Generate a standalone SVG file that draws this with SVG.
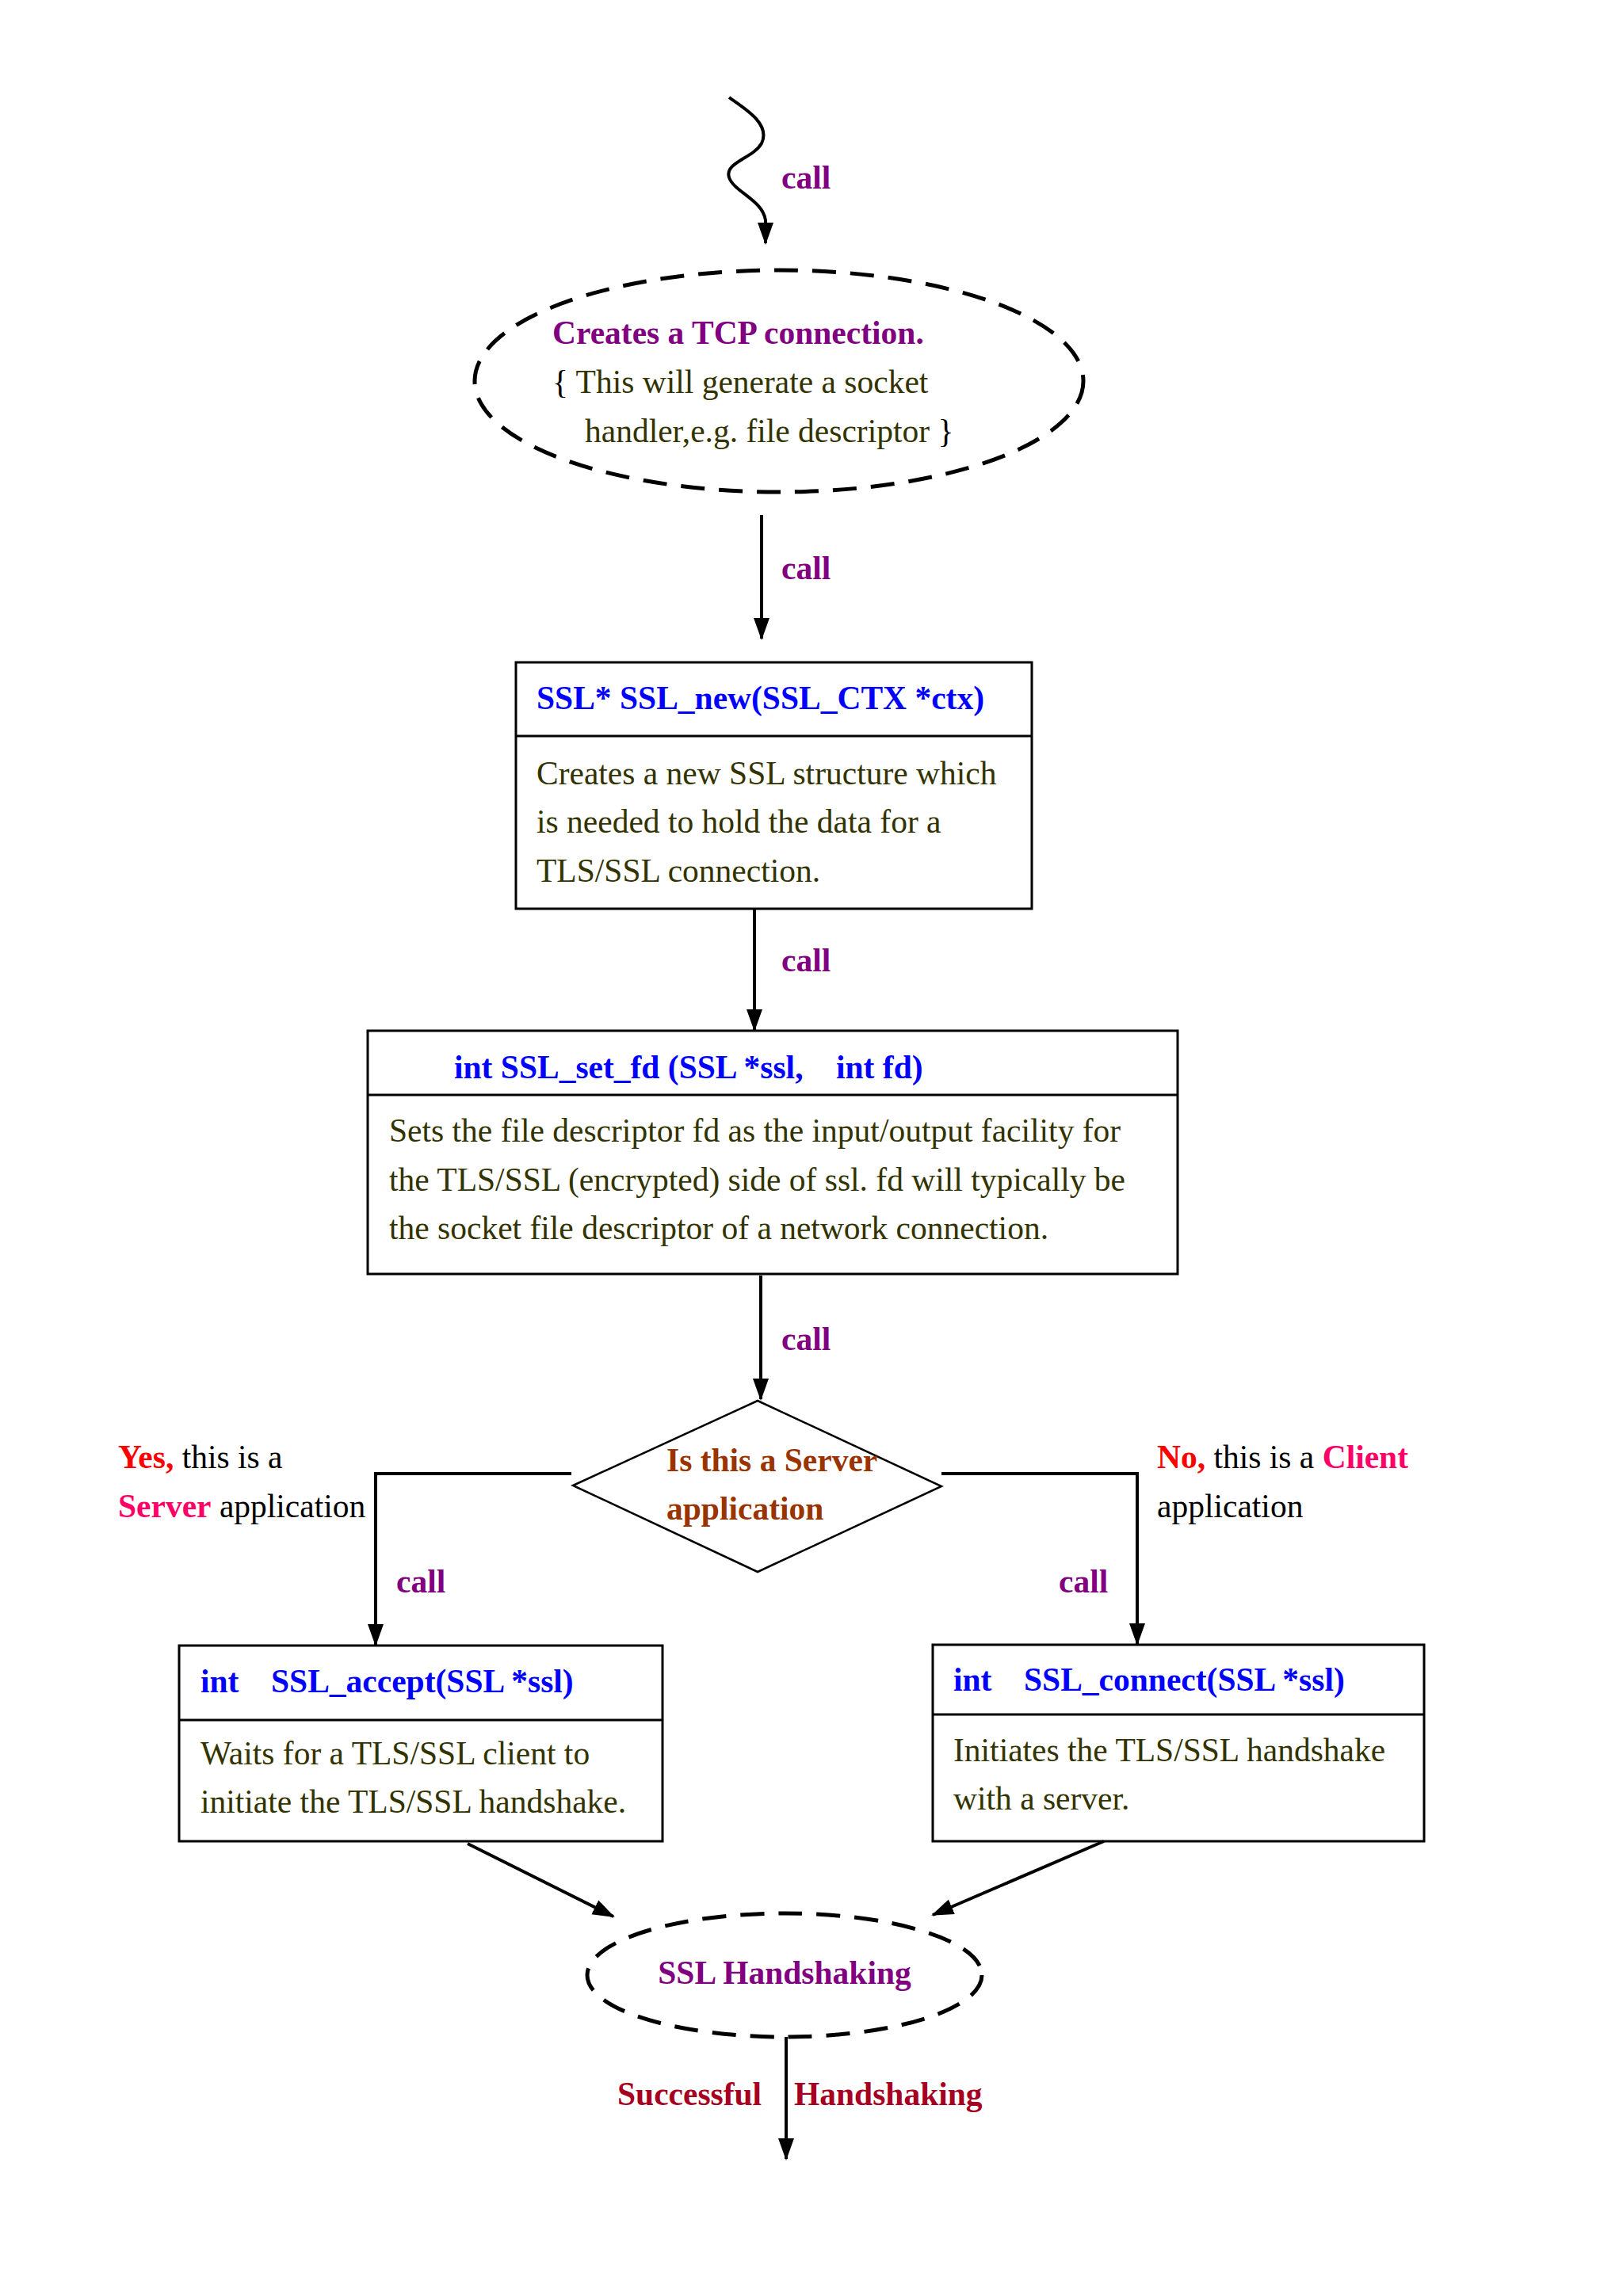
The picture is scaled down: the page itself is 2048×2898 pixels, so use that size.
<svg xmlns="http://www.w3.org/2000/svg" width="2048" height="2898" viewBox="0 0 2048 2898">
<style>
text{font-family:"Liberation Serif","Times New Roman",serif;font-size:41.5px}
.b{font-weight:bold}
.call{font-weight:bold;fill:#800080}
.body{fill:#333300}
.title{font-weight:bold;fill:#0000ff}
.box{fill:none;stroke:#000;stroke-width:3}
.dash{fill:none;stroke:#000;stroke-width:5;stroke-dasharray:30 18}
.con{fill:none;stroke:#000;stroke-width:4}
</style>
<defs>
<marker id="ah" markerUnits="userSpaceOnUse" markerWidth="28" markerHeight="24" viewBox="0 0 28 24" refX="26" refY="12" orient="auto">
<path d="M0,2 L28,12 L0,22 Z" fill="#000"/>
</marker>
</defs>
<rect width="2048" height="2898" fill="#ffffff"/>
<g id="connectors">
<path class="con" d="M920,123 C945,140 972,158 961,181 C950,200 914,205 920,224 C926,242 962,252 966,278 L966,307" marker-end="url(#ah)"/>
<line class="con" x1="961" y1="650" x2="961" y2="806" marker-end="url(#ah)"/>
<line class="con" x1="952" y1="1147" x2="952" y2="1300" marker-end="url(#ah)"/>
<line class="con" x1="960" y1="1610" x2="960" y2="1766" marker-end="url(#ah)"/>
<path class="con" stroke-width="5" d="M721,1860 L474,1860 L474,2076" marker-end="url(#ah)"/>
<path class="con" stroke-width="5" d="M1188,1860 L1435,1860 L1435,2075" marker-end="url(#ah)"/>
<line class="con" x1="590" y1="2327" x2="774" y2="2419" marker-end="url(#ah)"/>
<line class="con" x1="1393" y1="2324" x2="1177" y2="2417" marker-end="url(#ah)"/>
<line class="con" x1="992" y1="2571" x2="992" y2="2725" marker-end="url(#ah)"/>
<text class="call" x="986" y="238">call</text>
<text class="call" x="986" y="731">call</text>
<text class="call" x="986" y="1226">call</text>
<text class="call" x="986" y="1704">call</text>
<text class="call" x="500" y="2010">call</text>
<text class="call" x="1336" y="2010">call</text>
<text x="149" y="1853"><tspan class="b" fill="#ff0000">Yes,</tspan><tspan fill="#000"> this is a</tspan></text>
<text x="149" y="1915"><tspan class="b" fill="#ff0066">Server</tspan><tspan fill="#000"> application</tspan></text>
<text x="1460" y="1853"><tspan class="b" fill="#ff0000">No,</tspan><tspan fill="#000"> this is a </tspan><tspan class="b" fill="#ff0066">Client</tspan></text>
<text x="1460" y="1915" fill="#000">application</text>
<text class="b" x="779" y="2657" fill="#a50021">Successful</text>
<text class="b" x="1002" y="2657" fill="#a50021">Handshaking</text>
</g>
<g id="tcp">
<ellipse class="dash" cx="983" cy="481" rx="384" ry="140"/>
<text class="b" x="697" y="434" fill="#800080">Creates a TCP connection.</text>
<text x="697" y="496" fill="#333300"><tspan fill="#000">{</tspan> This will generate a socket</text>
<text x="738" y="558" fill="#333300">handler,e.g. file descriptor <tspan fill="#000">}</tspan></text>
</g>
<g id="ssl_new">
<rect class="box" x="651" y="836" width="651" height="311"/>
<line class="box" x1="651" y1="929" x2="1302" y2="929"/>
<text class="title" x="677" y="895">SSL* SSL_new(SSL_CTX *ctx)</text>
<text class="body" x="677" y="990">Creates a new SSL structure which</text>
<text class="body" x="677" y="1051">is needed to hold the data for a</text>
<text class="body" x="677" y="1113">TLS/SSL connection.</text>
</g>
<g id="ssl_set_fd">
<rect class="box" x="464" y="1301" width="1022" height="307"/>
<line class="box" x1="464" y1="1382" x2="1486" y2="1382"/>
<text class="title" x="573" y="1361" xml:space="preserve">int SSL_set_fd (SSL *ssl,    int fd)</text>
<text class="body" x="491" y="1441">Sets the file descriptor fd as the input/output facility for</text>
<text class="body" x="491" y="1503">the TLS/SSL (encrypted) side of ssl. fd will typically be</text>
<text class="body" x="491" y="1564">the socket file descriptor of a network connection.</text>
</g>
<g id="decision">
<polygon points="723,1875 956,1768 1188,1876 956,1984" fill="none" stroke="#000" stroke-width="2.5"/>
<text class="b" x="841" y="1857" fill="#993300">Is this a Server</text>
<text class="b" x="841" y="1918" fill="#993300">application</text>
</g>
<g id="ssl_accept">
<rect class="box" x="226" y="2077" width="610" height="247"/>
<line class="box" x1="226" y1="2171" x2="836" y2="2171"/>
<text class="title" x="253" y="2136">int</text>
<text class="title" x="342" y="2136">SSL_accept(SSL *ssl)</text>
<text class="body" x="253" y="2227">Waits for a TLS/SSL client to</text>
<text class="body" x="253" y="2288">initiate the TLS/SSL handshake.</text>
</g>
<g id="ssl_connect">
<rect class="box" x="1177" y="2076" width="620" height="248"/>
<line class="box" x1="1177" y1="2164" x2="1797" y2="2164"/>
<text class="title" x="1203" y="2134">int</text>
<text class="title" x="1292" y="2134">SSL_connect(SSL *ssl)</text>
<text class="body" x="1203" y="2223">Initiates the TLS/SSL handshake</text>
<text class="body" x="1203" y="2284">with a server.</text>
</g>
<g id="handshake">
<ellipse class="dash" cx="990" cy="2493" rx="249" ry="78"/>
<text class="b" x="990" y="2504" text-anchor="middle" fill="#800080">SSL Handshaking</text>
</g>
</svg>
